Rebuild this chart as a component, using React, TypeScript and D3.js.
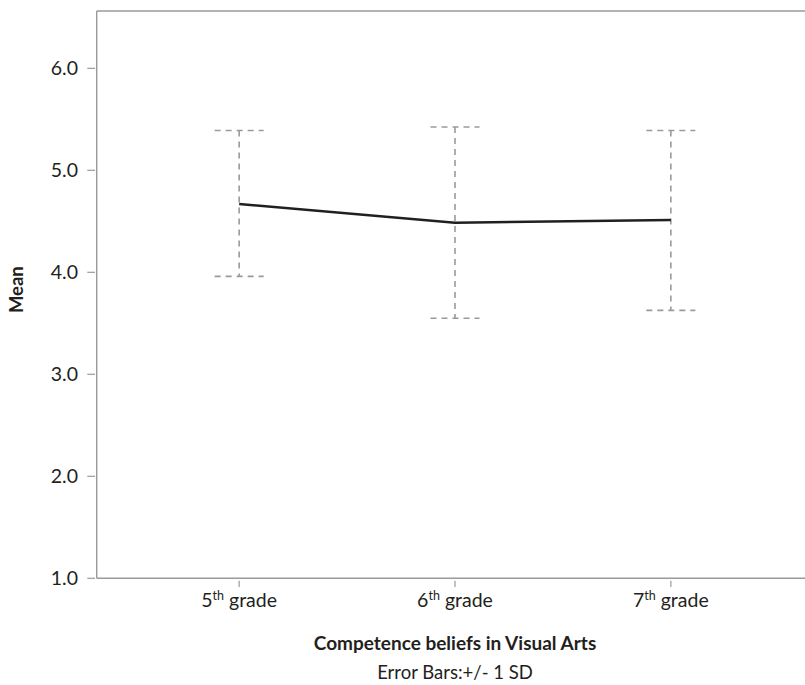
import React from "react";
import * as d3 from "d3";

const categories = ["5", "6", "7"];
const categorySuffix = "th";
const means = [4.67, 4.486, 4.513];
const upper = [5.39, 5.425, 5.39];
const lower = [3.96, 3.55, 3.627];
const yTicks = [1, 2, 3, 4, 5, 6];
const yLabel = "Mean";
const xTitle = "Competence beliefs in Visual Arts";
const note = "Error Bars:+/- 1 SD";

const W = 805;
const H = 685;
const left = 96.7;
const right = 813.3;
const top = 11;
const bottom = 578.3;
const font = "Lato, 'Noto Sans', sans-serif";
const gray = "#9a9a9a";
const ink = "#231f20";

export default function App() {
  const x = d3.scalePoint<string>().domain(categories).range([left, right]).padding(0.66);
  const y = d3.scaleLinear().domain([1, 6.562]).range([bottom, top]);
  const line = d3
    .line<number>()
    .x((_, i) => x(categories[i]) as number)
    .y((d) => y(d));
  const capHalf = 24.5;

  return (
    <div style={{ position: "absolute", left: 0, top: 0, width: W, height: H, background: "#fff" }}>
      <svg width={W} height={H} style={{ display: "block" }}>
        <rect x={0} y={0} width={W} height={H} fill="#fff" />
        {/* frame */}
        <line x1={left} x2={right} y1={top} y2={top} stroke={gray} strokeWidth={1.4} />
        <line x1={left} x2={left} y1={top} y2={bottom} stroke={gray} strokeWidth={1.4} />
        <line x1={left} x2={right} y1={bottom} y2={bottom} stroke={gray} strokeWidth={1.4} />
        {/* y ticks */}
        {yTicks.map((t) => (
          <g key={t}>
            <line x1={87.3} x2={95} y1={y(t)} y2={y(t)} stroke={gray} strokeWidth={1.2} />
            <text
              x={78}
              y={y(t)}
              dy="0.36em"
              textAnchor="end"
              fontFamily={font}
              fontSize={19.5}
              fill={ink}
            >
              {d3.format(".1f")(t)}
            </text>
          </g>
        ))}
        {/* x ticks */}
        {categories.map((c) => (
          <g key={c}>
            <line x1={x(c)} x2={x(c)} y1={580.7} y2={587} stroke={gray} strokeWidth={1.2} />
            <text
              x={x(c) as number}
              y={607}
              textAnchor="middle"
              fontFamily={font}
              fontSize={19.5}
              fill={ink}
            >
              {c}
              <tspan fontSize={12.5} dy={-7}>
                {categorySuffix}
              </tspan>
              <tspan dy={7}> grade</tspan>
            </text>
          </g>
        ))}
        {/* error bars */}
        {categories.map((c, i) => {
          const cx = x(c) as number;
          return (
            <g key={"e" + c} stroke={gray} strokeWidth={1.6} fill="none">
              <line x1={cx} x2={cx} y1={y(upper[i])} y2={y(lower[i])} strokeDasharray="6,5" />
              <line
                x1={cx - capHalf}
                x2={cx + capHalf}
                y1={y(upper[i])}
                y2={y(upper[i])}
                strokeDasharray="6,5"
              />
              <line
                x1={cx - capHalf}
                x2={cx + capHalf}
                y1={y(lower[i])}
                y2={y(lower[i])}
                strokeDasharray="6,5"
              />
            </g>
          );
        })}
        {/* mean line */}
        <path d={line(means) || ""} fill="none" stroke={ink} strokeWidth={2.5} />
        {/* labels */}
        <text
          transform={`translate(23,${(top + bottom) / 2 - 5}) rotate(-90)`}
          textAnchor="middle"
          fontFamily={font}
          fontWeight="bold"
          fontSize={18.5}
          fill={ink}
        >
          {yLabel}
        </text>
        <text
          x={(left + right) / 2}
          y={650}
          textAnchor="middle"
          fontFamily={font}
          fontWeight="bold"
          fontSize={19}
          fill={ink}
        >
          {xTitle}
        </text>
        <text
          x={(left + right) / 2}
          y={679}
          textAnchor="middle"
          fontFamily={font}
          fontSize={18.5}
          fill={ink}
        >
          {note}
        </text>
      </svg>
    </div>
  );
}
